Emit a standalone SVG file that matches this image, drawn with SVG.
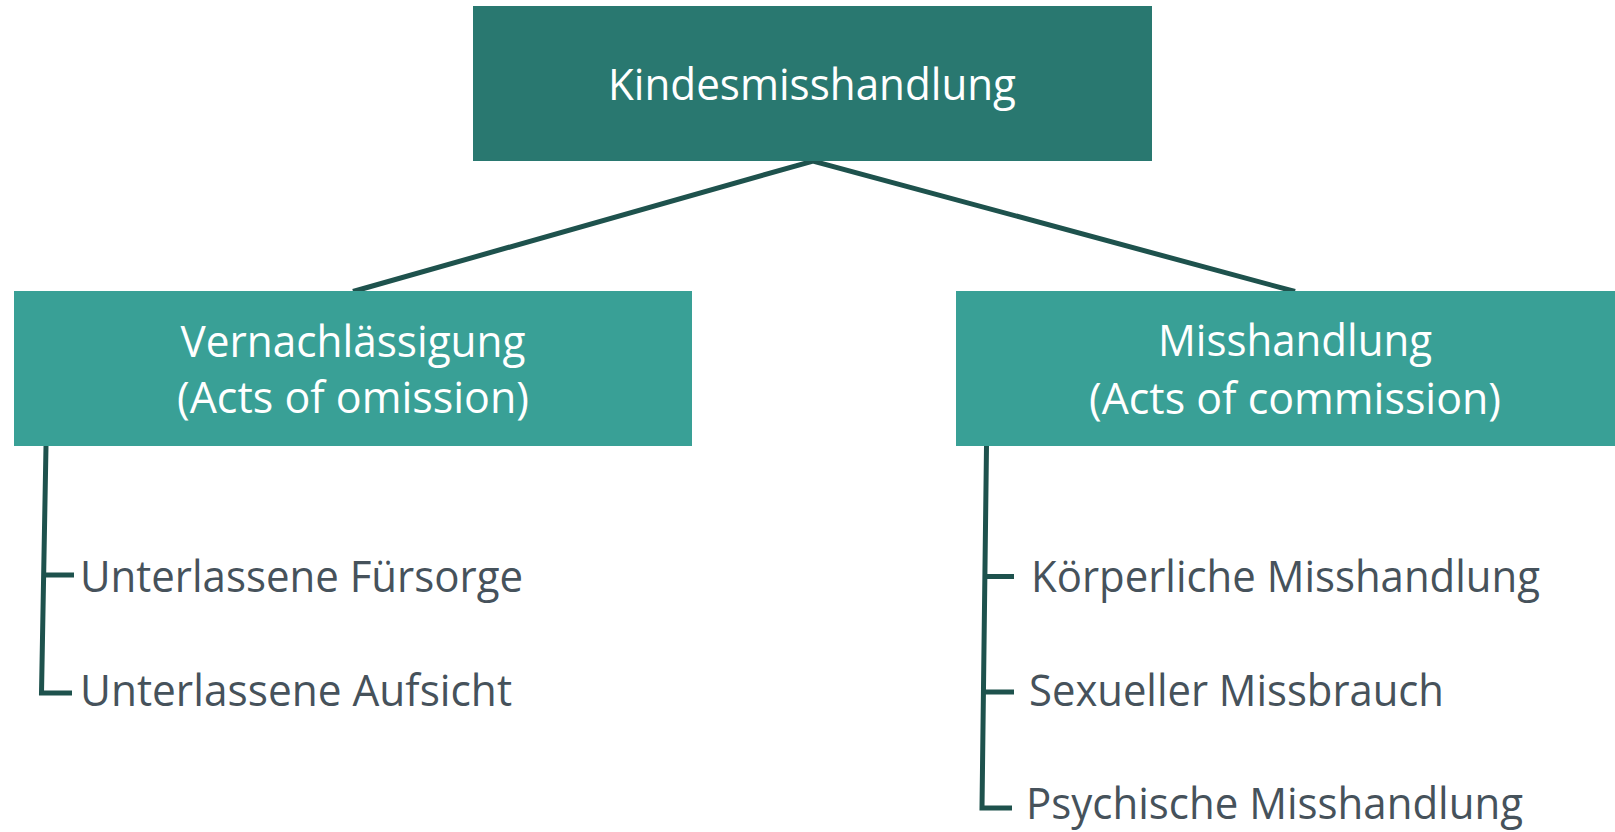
<svg xmlns="http://www.w3.org/2000/svg" width="1615" height="832" viewBox="0 0 1615 832">
<style>
.top{fill:#297870}
.sub{fill:#39a096}
.t{font-family:"Open Sans","Noto Sans",sans-serif;font-size:44px}
.w{fill:#ffffff}
.g{fill:#46525b}
.c{fill:none;stroke:#1e524d;stroke-width:5}
</style>
<rect width="1615" height="832" fill="#ffffff"/>
<g id="connectors">
<path class="c" d="M353 291.5 L813 161 L1295 291.5"/>
<path class="c" d="M46 446 L41.5 693 L72 693 M44.5 575 L74 575"/>
<path class="c" d="M986.5 446 L982 808 L1012 808 M985 576.5 L1014 576.5 M983.5 692 L1014 692"/>
</g>
<g id="root">
<rect class="top" x="473" y="6" width="679" height="155"/>
<text class="t w" x="812" y="100" text-anchor="middle" textLength="408" lengthAdjust="spacingAndGlyphs">Kindesmisshandlung</text>
</g>
<g id="neglect">
<rect class="sub" x="14" y="291" width="678" height="155"/>
<text class="t w" x="353" y="357" text-anchor="middle" textLength="345" lengthAdjust="spacingAndGlyphs">Vernachlässigung</text>
<text class="t w" x="353" y="413" text-anchor="middle" textLength="352" lengthAdjust="spacingAndGlyphs">(Acts of omission)</text>
</g>
<g id="abuse">
<rect class="sub" x="956" y="291" width="678" height="155"/>
<text class="t w" x="1295" y="356" text-anchor="middle" textLength="274" lengthAdjust="spacingAndGlyphs">Misshandlung</text>
<text class="t w" x="1295" y="414" text-anchor="middle" textLength="412" lengthAdjust="spacingAndGlyphs">(Acts of commission)</text>
</g>
<g id="neglect-care">
<text class="t g" x="80" y="592" textLength="443" lengthAdjust="spacingAndGlyphs">Unterlassene Fürsorge</text>
</g>
<g id="neglect-supervision">
<text class="t g" x="80" y="706" textLength="432" lengthAdjust="spacingAndGlyphs">Unterlassene Aufsicht</text>
</g>
<g id="physical">
<text class="t g" x="1031" y="592" textLength="509" lengthAdjust="spacingAndGlyphs">Körperliche Misshandlung</text>
</g>
<g id="sexual">
<text class="t g" x="1029" y="706" textLength="415" lengthAdjust="spacingAndGlyphs">Sexueller Missbrauch</text>
</g>
<g id="psychological">
<text class="t g" x="1026" y="819" textLength="497" lengthAdjust="spacingAndGlyphs">Psychische Misshandlung</text>
</g>
</svg>
